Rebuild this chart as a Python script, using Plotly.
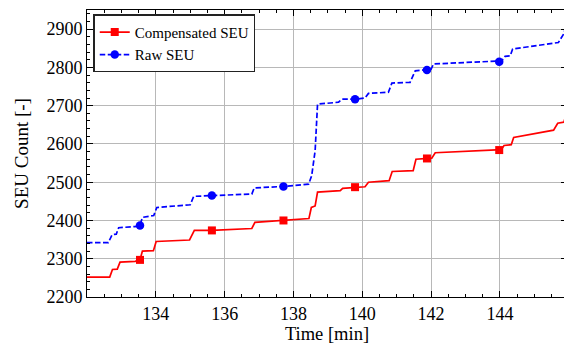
import plotly.graph_objects as go

# Compensated SEU (red, solid)
comp_t = [132.0, 132.66, 132.74, 132.88, 132.96, 133.40, 133.54, 133.61, 133.93, 134.01,
          134.98, 135.12, 135.63, 136.79, 136.88, 137.71, 138.45, 138.52, 138.63, 138.70,
          139.36, 139.43, 139.79, 140.08, 140.18, 140.78, 140.87, 141.48, 141.56, 141.88,
          142.02, 142.12, 143.98, 144.04, 144.12, 144.33, 144.40, 145.56, 145.68, 145.86, 145.95]
comp_v = [2252, 2252, 2272, 2273, 2291, 2293, 2297, 2320, 2321, 2345,
          2349, 2374, 2374, 2379, 2395, 2400, 2405, 2434, 2438, 2474,
          2478, 2484, 2487, 2488, 2500, 2504, 2528, 2530, 2560, 2562,
          2563, 2577, 2584, 2585, 2596, 2598, 2617, 2636, 2654, 2657, 2684]

# Raw SEU (blue, dashed)
raw_t = [132.0, 132.62, 132.73, 132.85, 132.92, 133.40, 133.54, 133.61, 133.94, 134.03,
         135.00, 135.10, 135.63, 136.79, 136.86, 137.71, 138.44, 138.53, 138.63, 138.70,
         139.31, 139.41, 139.79, 140.08, 140.18, 140.76, 140.86, 141.39, 141.54, 141.88,
         142.00, 142.07, 143.98, 144.05, 144.15, 144.30, 144.37, 145.70, 145.85, 145.95]
raw_v = [2342, 2342, 2363, 2364, 2381, 2384, 2387, 2408, 2413, 2434,
         2441, 2463, 2465, 2469, 2485, 2489, 2495, 2517, 2582, 2704,
         2709, 2717, 2717, 2720, 2732, 2735, 2759, 2761, 2791, 2793,
         2795, 2809, 2815, 2817, 2829, 2830, 2848, 2865, 2887, 2915]

# marker positions (every ~2.08 min)
mark_t = [133.54, 135.63, 137.71, 139.79, 141.88, 143.98]
comp_mark_v = [2297, 2374, 2400, 2487, 2562, 2584]
raw_mark_v = [2387, 2465, 2489, 2717, 2793, 2815]

x_ticks = [134, 136, 138, 140, 142, 144]
y_ticks = [2200, 2300, 2400, 2500, 2600, 2700, 2800, 2900]

RED = "#ff0000"
BLUE = "#0000ff"
FONT = "Liberation Serif"
DASH = "5.5px,2.5px"

fig = go.Figure()
fig.add_trace(go.Scatter(x=comp_t, y=comp_v, mode="lines", line=dict(color=RED, width=1.7),
                         showlegend=False, hoverinfo="skip"))
fig.add_trace(go.Scatter(x=mark_t, y=comp_mark_v, mode="markers",
                         marker=dict(symbol="square", size=8, color=RED), showlegend=False))
fig.add_trace(go.Scatter(x=raw_t, y=raw_v, mode="lines", line=dict(color=BLUE, width=1.7, dash=DASH),
                         showlegend=False, hoverinfo="skip"))
fig.add_trace(go.Scatter(x=mark_t, y=raw_mark_v, mode="markers",
                         marker=dict(symbol="circle", size=8.5, color=BLUE), showlegend=False))
# legend entries
fig.add_trace(go.Scatter(x=[None], y=[None], mode="lines+markers", name="Compensated SEU",
                         line=dict(color=RED, width=1.7), marker=dict(symbol="square", size=8, color=RED)))
fig.add_trace(go.Scatter(x=[None], y=[None], mode="lines+markers", name="Raw SEU",
                         line=dict(color=BLUE, width=1.7, dash=DASH),
                         marker=dict(symbol="circle", size=8.5, color=BLUE)))

axis_common = dict(
    showline=True, linecolor="black", linewidth=1, mirror="allticks",
    ticks="inside", ticklen=6, tickwidth=1, tickcolor="black",
    showgrid=True, gridcolor="#b8b8b8", gridwidth=1, zeroline=False,
    automargin=False,
    tickfont=dict(family=FONT, size=18, color="black"),
)

fig.update_xaxes(range=[132.0, 145.95], tickvals=x_ticks,
                 minor=dict(ticks="inside", ticklen=3, tickcolor="black", dtick=0.5, tick0=132, showgrid=False),
                 title=dict(text="Time [min]", font=dict(family=FONT, size=18.5, color="black"), standoff=4),
                 **axis_common)
fig.update_yaxes(range=[2200, 2950], tickvals=y_ticks,
                 minor=dict(ticks="inside", ticklen=3, tickcolor="black", dtick=20, tick0=2200, showgrid=False),
                 title=dict(text="SEU Count [-]", font=dict(family=FONT, size=19, color="black"), standoff=12),
                 **axis_common)

# page body has an 8px margin, so the figure is shifted by 8px; compensate
fig.update_layout(
    width=564, height=342,
    margin=dict(l=79, r=5, t=2, b=53),
    plot_bgcolor="white", paper_bgcolor="white",
    font=dict(family=FONT, color="black"),
    legend=dict(x=0.013, y=0.985, xanchor="left", yanchor="top",
                bgcolor="white", bordercolor="#222222", borderwidth=1.5,
                font=dict(family=FONT, size=15, color="black"),
                itemwidth=30, tracegroupgap=0),
)

fig.write_html("out.html")
